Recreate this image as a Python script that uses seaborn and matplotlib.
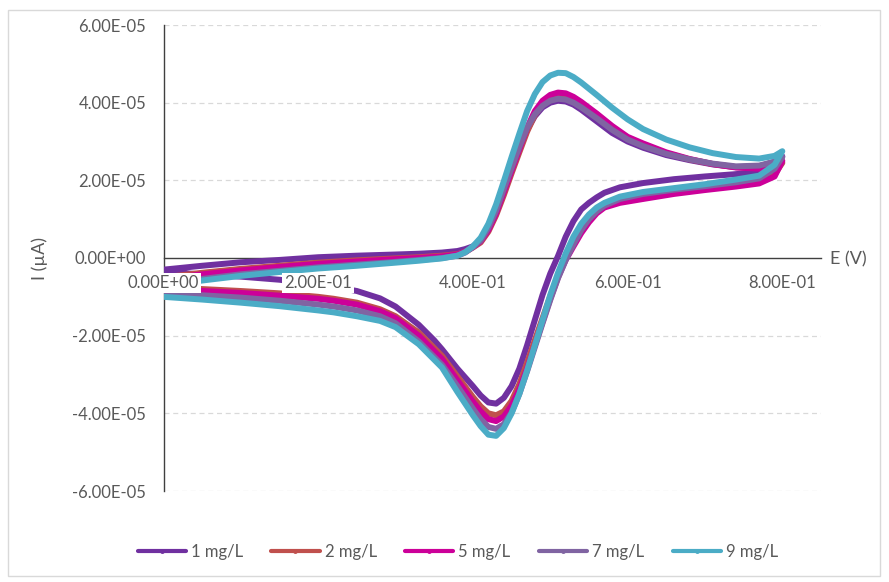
import matplotlib
matplotlib.use("Agg")
import matplotlib.pyplot as plt
from matplotlib.lines import Line2D
from matplotlib.patches import Rectangle
import seaborn as sns
import pandas as pd

# ---------------- data (current in units of 1e-5 A) ----------------
SCALE = 1e-5
series = ["1 mg/L", "2 mg/L", "5 mg/L", "7 mg/L", "9 mg/L"]
colors = ["#7030A0", "#C0504D", "#CC0099", "#8064A2", "#4BACC6"]

E_fwd = [0.00, 0.05, 0.10, 0.15, 0.20, 0.25, 0.30, 0.33, 0.36, 0.38, 0.39, 0.40,
         0.41, 0.42, 0.43, 0.44, 0.45, 0.46, 0.47, 0.48, 0.49, 0.50, 0.51, 0.52,
         0.53, 0.54, 0.56, 0.58, 0.60, 0.62, 0.65, 0.68, 0.71, 0.74, 0.77, 0.79, 0.80]
E_rev = [0.80, 0.79, 0.77, 0.74, 0.70, 0.66, 0.62, 0.59, 0.57, 0.56, 0.55, 0.54,
         0.53, 0.52, 0.51, 0.50, 0.49, 0.48, 0.47, 0.46, 0.45, 0.44, 0.43, 0.42,
         0.41, 0.40, 0.38, 0.36, 0.35, 0.33, 0.30, 0.28, 0.25, 0.22, 0.20, 0.15,
         0.10, 0.05, 0.00]

I1_fwd = [-0.30, -0.20, -0.11, -0.05, 0.02, 0.06, 0.09, 0.11, 0.14, 0.18, 0.23, 0.30,
          0.45, 0.75, 1.18, 1.72, 2.28, 2.82, 3.30, 3.65, 3.88, 4.00, 4.05, 4.03,
          3.95, 3.82, 3.52, 3.22, 3.00, 2.84, 2.65, 2.52, 2.41, 2.34, 2.36, 2.48, 2.62]
I1_rev = [2.62, 2.35, 2.22, 2.16, 2.10, 2.03, 1.93, 1.82, 1.68, 1.56, 1.42, 1.25,
          0.95, 0.55, 0.05, -0.40, -0.95, -1.60, -2.25, -2.85, -3.30, -3.60, -3.75, -3.72,
          -3.54, -3.30, -2.85, -2.35, -2.12, -1.72, -1.25, -1.04, -0.85, -0.74, -0.68, -0.56,
          -0.48, -0.42, -0.36]

I2_fwd = [-0.50, -0.38, -0.28, -0.20, -0.12, -0.06, -0.01, 0.02, 0.06, 0.10, 0.16, 0.27,
          0.40, 0.68, 1.10, 1.62, 2.18, 2.72, 3.25, 3.68, 3.97, 4.12, 4.19, 4.17,
          4.08, 3.96, 3.70, 3.37, 3.10, 2.92, 2.70, 2.54, 2.42, 2.34, 2.32, 2.38, 2.45]
I2_rev = [2.45, 2.15, 1.98, 1.92, 1.85, 1.75, 1.62, 1.50, 1.35, 1.20, 0.98, 0.72,
          0.38, 0.00, -0.45, -0.98, -1.55, -2.12, -2.70, -3.25, -3.68, -3.95, -4.05, -4.00,
          -3.82, -3.58, -3.05, -2.52, -2.32, -1.92, -1.50, -1.32, -1.15, -1.05, -1.00, -0.91,
          -0.85, -0.80, -0.75]

I5_fwd = [-0.55, -0.42, -0.32, -0.23, -0.15, -0.09, -0.03, 0.00, 0.04, 0.09, 0.16, 0.28,
          0.43, 0.72, 1.15, 1.70, 2.25, 2.80, 3.35, 3.78, 4.05, 4.20, 4.26, 4.24,
          4.15, 4.02, 3.72, 3.40, 3.12, 2.95, 2.72, 2.55, 2.42, 2.33, 2.30, 2.36, 2.50]
I5_rev = [2.50, 2.10, 1.92, 1.84, 1.75, 1.65, 1.52, 1.42, 1.30, 1.15, 0.92, 0.64,
          0.30, -0.05, -0.50, -1.05, -1.65, -2.25, -2.85, -3.38, -3.80, -4.08, -4.20, -4.15,
          -3.95, -3.70, -3.15, -2.60, -2.40, -2.00, -1.55, -1.37, -1.20, -1.10, -1.05, -0.97,
          -0.90, -0.85, -0.80]

I7_fwd = [-0.68, -0.54, -0.42, -0.33, -0.24, -0.17, -0.10, -0.05, 0.00, 0.06, 0.14, 0.28,
          0.45, 0.78, 1.22, 1.78, 2.32, 2.86, 3.35, 3.70, 3.92, 4.05, 4.10, 4.08,
          4.00, 3.88, 3.60, 3.30, 3.05, 2.88, 2.68, 2.54, 2.43, 2.36, 2.38, 2.48, 2.60]
I7_rev = [2.60, 2.30, 2.05, 1.95, 1.85, 1.76, 1.65, 1.52, 1.35, 1.20, 1.00, 0.72,
          0.35, -0.05, -0.52, -1.08, -1.68, -2.30, -2.92, -3.50, -3.98, -4.28, -4.40, -4.35,
          -4.15, -3.88, -3.30, -2.75, -2.55, -2.15, -1.68, -1.50, -1.35, -1.25, -1.20, -1.10,
          -1.02, -0.96, -0.92]

I9_fwd = [-0.72, -0.58, -0.46, -0.36, -0.27, -0.20, -0.12, -0.07, -0.01, 0.06, 0.15, 0.30,
          0.52, 0.88, 1.38, 1.98, 2.60, 3.20, 3.78, 4.22, 4.53, 4.70, 4.77, 4.76,
          4.66, 4.52, 4.20, 3.87, 3.57, 3.32, 3.05, 2.85, 2.70, 2.60, 2.56, 2.63, 2.75]
I9_rev = [2.75, 2.40, 2.12, 2.02, 1.90, 1.80, 1.70, 1.58, 1.42, 1.30, 1.12, 0.88,
          0.55, 0.12, -0.38, -0.95, -1.60, -2.25, -2.90, -3.50, -4.00, -4.38, -4.58, -4.55,
          -4.33, -4.05, -3.45, -2.82, -2.62, -2.22, -1.78, -1.62, -1.50, -1.40, -1.35, -1.24,
          -1.15, -1.07, -1.00]

x_ticks = [0.0, 0.2, 0.4, 0.6, 0.8]
y_ticks = [-6e-5, -4e-5, -2e-5, 0.0, 2e-5, 4e-5, 6e-5]

# ---------------- build long table ----------------
fwd = [I1_fwd, I2_fwd, I5_fwd, I7_fwd, I9_fwd]
rev = [I1_rev, I2_rev, I5_rev, I7_rev, I9_rev]
rows = []
for name, f, r in zip(series, fwd, rev):
    for e, i in zip(E_fwd + E_rev, f + r):
        rows.append({"E": e, "I": i * SCALE, "conc": name})
df = pd.DataFrame(rows)

# ---------------- plot ----------------
sns.set_theme(style="white")
plt.rcParams["font.family"] = ["Lato", "DejaVu Sans"]
TXT = "#595959"
FS = 12

W, H = 889, 582
fig = plt.figure(figsize=(W / 100, H / 100), dpi=100)
ax = fig.add_axes([163.5 / W, 1 - 491 / H, (821 - 163.5) / W, (491 - 25) / H])

sns.lineplot(data=df, x="E", y="I", hue="conc", hue_order=series,
             palette=colors, sort=False, estimator=None, lw=4.3,
             legend=False, ax=ax, zorder=2,
             solid_joinstyle="round", solid_capstyle="round")

ax.set_xlim(0, 0.85)
ax.set_ylim(-6e-5, 6e-5)
ax.set_xlabel("")
ax.set_ylabel("")

for yv in y_ticks:
    if yv != 0:
        ax.axhline(yv, color="#D9D9D9", lw=0.9, ls=(0, (4, 3)), zorder=0.5)

ax.set_axisbelow(False)
for s in ["top", "right"]:
    ax.spines[s].set_visible(False)
ax.spines["bottom"].set_position(("data", 0))
for s in ["left", "bottom"]:
    ax.spines[s].set_color("#404040")
    ax.spines[s].set_linewidth(1.0)
    ax.spines[s].set_zorder(1.5)

ax.set_xticks(x_ticks)
ax.set_yticks(y_ticks)
ax.set_xticklabels(["%.2E" % v for v in x_ticks])
ax.set_yticklabels(["%.2E" % v for v in y_ticks])
ax.tick_params(axis="both", direction="inout", length=7, width=1, color="#404040",
               labelsize=FS, labelcolor=TXT, pad=9)
for lab in ax.get_xticklabels():
    lab.set_bbox(dict(facecolor="white", edgecolor="none", pad=1.5))

fig.text(848 / W, 1 - 259 / H, "E (V)", ha="center", va="center",
         fontsize=FS + 1, color=TXT)
fig.text(40 / W, 1 - 259 / H, "I (\u00b5A)", ha="center", va="center",
         rotation=90, fontsize=FS + 1, color=TXT)

handles = [Line2D([], [], color=c, lw=3, marker="o", ms=2.5) for c in colors]
fig.legend(handles, series, loc="center", bbox_to_anchor=(0.515, 1 - 552 / H),
           ncol=5, frameon=False, fontsize=FS, handlelength=2.9,
           handletextpad=0.3, columnspacing=1.7, labelcolor=TXT)

fig.patches.append(Rectangle((8 / W, 1 - 576 / H), (880 - 8) / W, (576 - 10) / H,
                             transform=fig.transFigure, fill=False,
                             ec="#D9D9D9", lw=1.0))

fig.savefig("out.png", dpi=100, facecolor="white")
